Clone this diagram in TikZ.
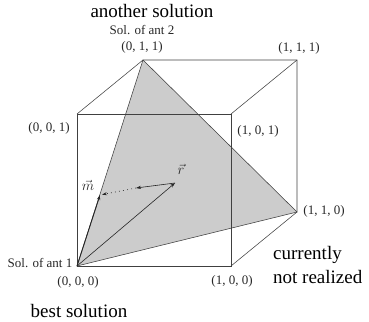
\documentclass[tikz,border=0pt]{standalone}
\usepackage{fontspec}
\setmainfont{Liberation Serif}
\usetikzlibrary{arrows.meta}
\begin{document}
\begin{tikzpicture}[x=1pt,y=-1pt,
  edge/.style={draw=black!75,line width=0.55pt},
  vec/.style={draw=black!85,line width=0.6pt,-{Stealth[length=5pt,width=3.2pt]}},
  small/.style={font=\fontsize{13}{15}\selectfont,inner sep=0pt,text=black!85},
  veclab/.style={font=\fontsize{15}{17}\selectfont,inner sep=0pt,text=black!85},
  big/.style={font=\fontsize{19}{23}\selectfont,inner sep=0pt}]
\useasboundingbox (0,0) rectangle (369,321);
% cube vertices
\coordinate (A) at (77,266);   % (0,0,0)
\coordinate (B) at (231,266);  % (1,0,0)
\coordinate (C) at (231,114);  % (1,0,1)
\coordinate (D) at (77,114);   % (0,0,1)
\coordinate (E) at (143,60);   % (0,1,1)
\coordinate (F) at (297,60);   % (1,1,1)
\coordinate (G) at (297,212);  % (1,1,0)
% triangle
\fill[gray!40] (A) -- (E) -- (G) -- cycle;
\draw[edge] (A) -- (E) -- (G) -- cycle;
% cube edges
\draw[edge] (A) -- (B) -- (C) -- (D) -- cycle;
\draw[edge] (D) -- (E) -- (F) -- (G) -- (B);
\draw[edge] (C) -- (F);
% vectors
\coordinate (R) at (175,183);
\coordinate (M) at (100,195);
\coordinate (Q) at (136,188);
\coordinate (Mend) at (102,194.6);
\draw[vec,line width=0.9pt] (A) -- (M);
\draw[vec] (A) -- (R);
\draw[vec] (R) -- (Q);
\draw[vec,dash pattern=on 0.9pt off 3.2pt] (Q) -- (Mend);
\node[veclab] (mlab) at (88,185) {$\vec{m}$};
\node[veclab] (rlab) at (181,169) {$\vec{r}$};
% labels
\node[small] (l011) at (142,47) {(0, 1, 1)};
\node[small] (ant2) at (142,30) {Sol. of ant 2};
\node[small] (l111) at (299,48) {(1, 1, 1)};
\node[small] (l001) at (49,128) {(0, 0, 1)};
\node[small] (l101) at (258,131) {(1, 0, 1)};
\node[small] (l110) at (324,211) {(1, 1, 0)};
\node[small] (ant1) at (40,263) {Sol. of ant 1};
\node[small] (l000) at (78,282) {(0, 0, 0)};
\node[small] (l100) at (232,281) {(1, 0, 0)};
\node[big,anchor=base] (another) at (152,18) {another solution};
\node[big,anchor=base] (best) at (79,317) {best solution};
\node[big,anchor=base west] (cur1) at (273,259) {currently};
\node[big,anchor=base west] (cur2) at (273,283) {not realized};
\end{tikzpicture}
\end{document}
